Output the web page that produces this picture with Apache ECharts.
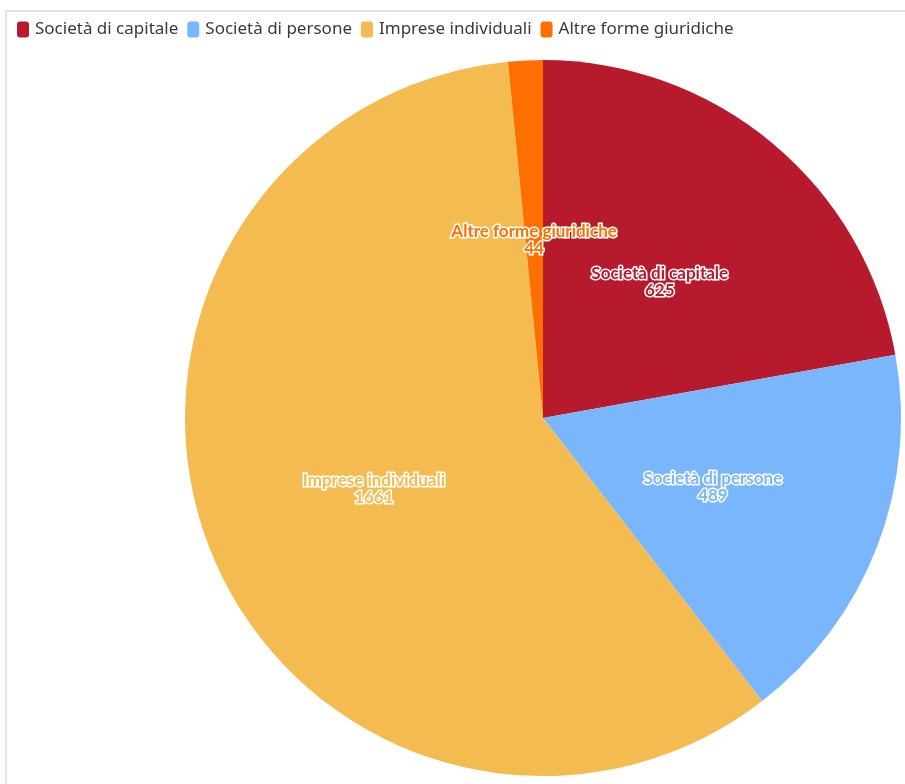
<!DOCTYPE html>
<html><head><meta charset="utf-8">
<script src="https://cdn.jsdelivr.net/npm/echarts@6/dist/echarts.min.js"></script>
<style>
html,body{margin:0;padding:0;background:#fff;}
#frame{position:absolute;left:5px;top:10px;width:900px;height:774px;border-top:2px solid #e3e3e3;border-left:2px solid #e3e3e3;}
#c{position:absolute;left:0;top:0;width:905px;height:784px;}
</style></head>
<body>
<div id="frame"></div>
<div id="c"></div>
<script>
const categories = ["Società di capitale","Società di persone","Imprese individuali","Altre forme giuridiche"];
const values = [625, 489, 1661, 44];
const colors = ["#b81a2d","#7ab6fb","#f4bc50","#fd7000"];

const chart = echarts.init(document.getElementById('c'));
chart.setOption({
  animation:false,
  legend:{
    left:12, top:16, itemWidth:12, itemHeight:16, itemGap:9,
    icon:'roundRect',
    textStyle:{fontFamily:'Noto Sans', fontSize:17, color:'#3a3a3a', padding:[0,0,0,1]},
    data: categories
  },
  series:[{
    type:'pie',
    center:[543,418],
    radius:358,
    startAngle:90,
    clockwise:true,
    avoidLabelOverlap:false,
    label:{
      show:true, position:'inside',
      formatter:'{b}\n{c}',
      fontFamily:'Lato', fontWeight:'bold', fontSize:17, lineHeight:17,
      textBorderColor:'#fff', textBorderWidth:3,
      offset:[0,4]
    },
    labelLine:{show:false},
    data: categories.map((n,i)=>({name:n, value:values[i], itemStyle:{color:colors[i]}, label:{color:colors[i]}}))
  }]
});
</script>
</body></html>
